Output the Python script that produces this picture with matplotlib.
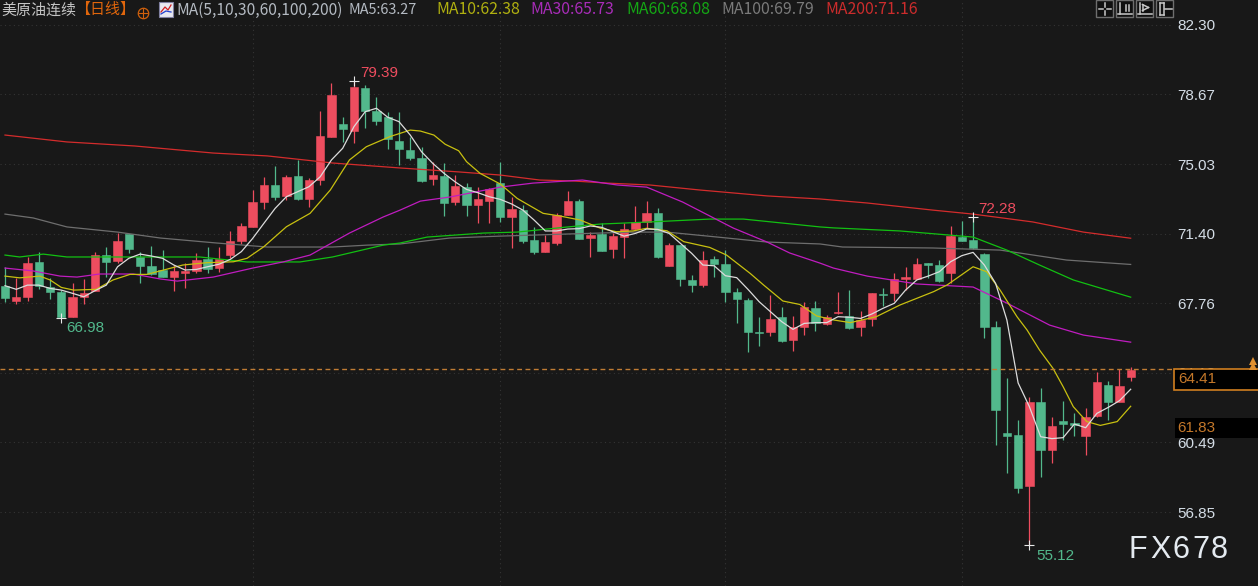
"""Daily candlestick chart of US crude (continuous) with moving averages."""

import matplotlib
matplotlib.use("Agg")
import matplotlib.pyplot as plt
from matplotlib.patches import Rectangle

plt.rcParams["font.family"] = ["Noto Sans CJK SC", "DejaVu Sans"]

W, H = 1258, 586

OPENS = [68.66, 67.88, 68.07, 69.90, 68.63, 68.33, 67.03, 68.10, 68.42, 70.28,
         69.97, 71.36, 70.16, 69.71, 69.50, 69.12, 69.32, 69.46, 70.07, 69.62,
         70.28, 71.01, 71.73, 73.05, 73.94, 73.36, 74.41, 73.23, 74.20, 76.43,
         77.13, 76.78, 78.99, 77.81, 77.48, 76.26, 75.77, 75.33, 74.24, 74.41,
         73.03, 73.82, 72.91, 73.12, 74.03, 72.25, 72.63, 71.07, 70.42, 70.89,
         72.37, 73.10, 71.15, 71.36, 70.58, 71.24, 71.66, 72.02, 72.46, 69.72,
         70.80, 68.99, 68.71, 70.06, 69.83, 68.33, 67.95, 66.26, 66.26, 67.03,
         65.86, 66.54, 67.53, 66.66, 67.23, 67.11, 66.50, 66.92, 68.24, 68.28,
         69.03, 69.05, 69.85, 69.76, 69.32, 71.24, 71.07, 70.32, 66.50, 61.00,
         60.88, 58.23, 62.58, 60.11, 61.59, 61.47, 60.84, 61.87, 63.49, 62.58,
         63.89]
CLOSES = [68.02, 68.07, 69.85, 68.66, 68.33, 67.03, 68.07, 68.31, 70.28, 69.90,
          71.01, 70.58, 69.71, 69.29, 69.12, 69.46, 69.46, 70.02, 69.53, 70.07,
          71.01, 71.80, 73.03, 73.94, 73.30, 74.34, 73.23, 74.20, 76.50, 78.64,
          76.85, 79.04, 77.81, 77.30, 76.33, 75.80, 75.33, 74.15, 74.46, 72.98,
          73.89, 72.91, 73.19, 73.71, 72.25, 72.67, 71.01, 70.42, 70.94, 72.37,
          73.10, 71.10, 71.33, 70.49, 71.27, 71.66, 72.02, 72.46, 70.16, 70.80,
          69.01, 68.73, 70.02, 69.81, 68.33, 67.97, 66.26, 66.19, 66.96, 65.79,
          66.54, 67.58, 66.75, 67.06, 67.32, 66.45, 66.89, 68.28, 68.19, 69.01,
          69.10, 69.83, 69.78, 68.92, 71.29, 71.03, 70.63, 66.52, 62.20, 60.84,
          58.09, 62.58, 60.11, 61.35, 61.43, 61.42, 61.80, 63.63, 62.58, 63.44,
          64.27]
HIGHS = [69.64, 69.06, 70.16, 70.46, 69.06, 68.45, 68.84, 69.01, 70.46, 70.68,
         71.41, 71.36, 70.46, 70.75, 70.54, 69.76, 69.85, 70.37, 70.68, 70.68,
         71.54, 71.97, 73.68, 74.34, 74.93, 74.46, 75.25, 74.29, 77.81, 79.25,
         77.48, 79.39, 79.17, 78.52, 77.77, 77.77, 76.43, 75.94, 75.16, 75.11,
         74.46, 74.03, 73.82, 73.77, 75.12, 73.30, 72.89, 71.76, 71.33, 72.49,
         73.63, 73.19, 71.50, 71.97, 71.41, 71.97, 72.84, 73.10, 72.72, 70.89,
         70.80, 69.24, 70.49, 70.23, 70.54, 68.54, 68.05, 67.03, 68.19, 67.55,
         67.09, 67.81, 67.88, 67.15, 68.33, 68.45, 67.36, 68.31, 68.58, 69.32,
         69.64, 70.14, 69.88, 70.02, 71.80, 72.06, 72.28, 70.37, 66.83, 63.84,
         61.66, 62.85, 63.32, 61.80, 62.65, 62.01, 62.27, 64.15, 63.70, 64.33,
         64.41]
LOWS = [67.84, 67.72, 67.88, 68.49, 67.97, 66.98, 67.03, 67.70, 68.42, 69.15,
        69.85, 70.37, 68.80, 69.24, 69.12, 68.42, 68.54, 69.32, 69.32, 69.41,
        70.11, 70.84, 71.73, 72.67, 73.16, 73.16, 73.16, 72.77, 73.94, 76.43,
        76.20, 76.12, 76.90, 77.07, 75.80, 74.98, 75.25, 74.08, 73.94, 72.32,
        72.89, 72.32, 71.97, 71.94, 71.99, 70.63, 70.93, 70.33, 70.42, 70.80,
        72.37, 71.10, 70.16, 70.49, 70.11, 70.11, 71.66, 71.68, 70.11, 69.72,
        68.66, 68.33, 68.59, 69.12, 67.81, 66.71, 65.21, 65.53, 66.05, 65.74,
        65.28, 66.12, 66.31, 66.62, 67.20, 66.40, 66.07, 66.57, 67.63, 67.88,
        68.45, 69.01, 69.06, 68.85, 68.80, 71.03, 70.58, 65.93, 60.35, 58.87,
        57.83, 55.12, 58.67, 59.40, 60.62, 60.82, 59.83, 61.84, 61.66, 62.58,
        63.72]

MA5 = [68.68, 68.49, 68.71, 68.71, 68.54, 68.45, 68.28, 68.10, 68.42, 68.71,
       69.67, 70.11, 70.33, 70.23, 70.11, 69.76, 69.50, 69.53, 69.67, 69.80,
       70.05, 70.46, 71.15, 71.94, 72.72, 73.33, 73.59, 73.85, 74.37, 75.25,
       75.86, 76.99, 77.77, 77.95, 77.48, 77.25, 76.55, 75.68, 75.07, 74.55,
       74.10, 73.71, 73.54, 73.33, 73.19, 72.95, 72.63, 72.11, 71.54, 71.54,
       71.64, 71.66, 71.80, 71.73, 71.50, 71.27, 71.41, 71.64, 71.62, 71.41,
       70.89, 70.37, 69.76, 69.72, 69.20, 69.10, 68.49, 67.84, 67.32, 66.80,
       66.40, 66.71, 66.75, 66.75, 67.06, 67.03, 66.97, 67.20, 67.50, 67.76,
       68.45, 68.98, 69.18, 69.41, 69.93, 70.25, 70.42, 69.76, 68.80, 66.89,
       63.60, 62.36, 60.79, 60.69, 60.74, 61.45, 61.26, 62.01, 62.32, 62.67,
       63.27]

MA10_DAY = [0, 1.3, 3.1, 4, 5, 6.1, 8.1, 9.6, 11.1, 12.6, 14.1, 15.8, 17.9, 20.3,
            21.5, 23, 25, 27.1, 28.9, 30.6, 32.1, 34.2, 36, 36.9, 38.1, 39.1,
            40.3, 41, 42.2, 44, 45.5, 47.8, 49.3, 51.1, 52.9, 54.3, 55.8, 57,
            58.8, 60.3, 62.6, 64.1, 66.2, 67.4, 69.1, 70.6, 72.1, 73.6, 75.1,
            77.4, 79.5, 82.5, 83.7, 86, 87.2, 88.4, 89.9, 90.8, 91.9, 93.1, 94,
            94.9, 96.1, 97.3, 98.8, 100]
MA10 = [69.18, 69.09, 69.18, 68.98, 68.59, 68.45, 68.49, 68.98, 69.27, 69.27,
        69.50, 69.76, 69.88, 69.93, 70.11, 70.72, 71.76, 72.46, 73.68, 75.25,
        75.94, 76.47, 76.81, 76.76, 76.55, 76.07, 75.73, 75.16, 74.55, 73.99,
        73.24, 72.46, 72.32, 72.11, 71.68, 71.50, 71.54, 71.68, 71.55, 70.98,
        70.68, 70.28, 69.32, 68.71, 67.88, 67.70, 67.10, 66.89, 66.75, 67.06,
        67.67, 68.37, 68.72, 69.67, 69.41, 68.45, 67.06, 66.36, 65.32, 64.36,
        63.40, 62.36, 61.58, 61.38, 61.58, 62.38]

MA30_DAY = [0, 2.5, 4.9, 6.4, 8.4, 11.4, 13.8, 15.3, 18.5, 22, 24.7, 27.1, 30.6,
            33.6, 35.1, 36.9, 39.5, 44, 46.9, 51.3, 54.4, 57, 60.2, 64.7, 67.7,
            69.7, 72.4, 73.6, 76.6, 81, 86, 89, 92.8, 95.8, 100]
MA30 = [69.60, 69.45, 69.18, 69.13, 69.29, 69.29, 69.03, 68.92, 69.13, 69.60,
        69.92, 70.28, 71.43, 72.27, 72.63, 73.10, 73.31, 73.83, 74.04, 74.20,
        73.94, 73.83, 73.05, 71.69, 70.96, 70.39, 69.86, 69.60, 69.18, 68.77,
        68.61, 67.77, 66.62, 66.10, 65.73]

MA60_DAY = [0, 1.3, 3.4, 5.5, 11.4, 17.3, 21.5, 26.2, 29.1, 33.6, 35.1, 37.5,
            42.5, 45.5, 50, 52.9, 57.3, 62.6, 65.6, 69.1, 72.4, 73.6, 79.5, 86,
            89, 91.9, 94.9, 100]
MA60 = [70.28, 70.18, 70.33, 70.18, 70.18, 70.18, 69.92, 69.92, 70.18, 70.80,
        70.91, 71.22, 71.43, 71.48, 71.75, 71.90, 72.01, 72.16, 72.16, 71.95,
        71.75, 71.70, 71.54, 71.22, 70.54, 69.76, 68.98, 68.08]

MA100_DAY = [0, 2.5, 5.5, 10, 13.8, 18.8, 23.3, 29.1, 32.2, 35.1, 39.5, 44, 50,
             55.8, 58.8, 63.3, 67.7, 72.4, 74.4, 82.4, 88.4, 94.3, 100]
MA100 = [72.42, 72.22, 71.75, 71.48, 71.17, 70.91, 70.70, 70.70, 70.80, 70.86,
         71.17, 71.27, 71.38, 71.48, 71.48, 71.22, 70.96, 70.86, 70.70, 70.65,
         70.54, 70.02, 69.79]

MA200_DAY = [0, 5.5, 11.5, 18.5, 23.3, 29.1, 35.1, 40.4, 44, 47.5, 50.5, 53.5,
             57.3, 61.7, 67.7, 72.4, 76.6, 82.4, 86, 91.3, 95.8, 100]
MA200 = [76.55, 76.19, 75.98, 75.61, 75.46, 75.09, 74.83, 74.62, 74.46, 74.20,
         74.15, 74.04, 73.94, 73.68, 73.37, 73.21, 73.00, 72.63, 72.42, 72.01,
         71.48, 71.16]

Y_TICKS = [82.30, 78.67, 75.03, 71.40, 67.76, 64.13, 60.49, 56.85]
V_GRID_DAYS = [22, 44, 64, 85]
LAST_LINE = 64.33

UP = "#ee4d5f"
DOWN = "#52b88c"
BG = "#181818"

HEADER = [
    ("美原油连续", 1, "#c4c4c4", 10.8),
    ("【日线】", 75, "#e0660c", 10.8),
    ("MA(5,10,30,60,100,200)", 176, "#b4bac2", 11.2),
    ("MA5:63.27", 349, "#b4bac2", 10.4),
    ("MA10:62.38", 436, "#b0b010", 11.4),
    ("MA30:65.73", 530, "#a82cb8", 11.4),
    ("MA60:68.08", 626, "#14a814", 11.4),
    ("MA100:69.79", 721, "#7a7a7a", 11.4),
    ("MA200:71.16", 825, "#cc2c2c", 11.4),
]
EXTREMES = [(31, 79.39, 0.55, 0.42, UP), (5, 66.98, 0.45, -0.52, DOWN),
            (86, 72.28, 0.45, 0.40, UP), (91, 55.12, 0.6, -0.55, DOWN)]


def px(x, y):
    """Image pixel (from top-left) to figure fraction."""
    return x / W, 1 - y / H


def add_button(fig, x, kind):
    fx, fy = px(x, 17)
    fig.add_artist(Rectangle((fx, fy), 17 / W, 17 / H, transform=fig.transFigure,
                             facecolor="#101010", edgecolor="#6e6e6e", lw=1))
    cx, cy = x + 8.5, 8.5
    segs = {
        "move": [((cx - 6, cy), (cx - 2, cy)), ((cx + 2, cy), (cx + 6, cy)),
                 ((cx, cy - 6), (cx, cy - 2)), ((cx, cy + 2), (cx, cy + 6))],
        "left": [((cx - 5, cy - 6), (cx - 5, cy + 5)), ((cx - 7, cy + 5), (cx + 7, cy + 5)),
                 ((cx + 1, cy - 4), (cx + 1, cy + 2)), ((cx + 4, cy - 4), (cx + 4, cy + 2))],
        "play": [((cx - 5, cy - 6), (cx - 5, cy + 5)), ((cx - 7, cy + 5), (cx + 7, cy + 5)),
                 ((cx - 2, cy - 4), (cx - 2, cy + 2)), ((cx - 2, cy - 4), (cx + 4, cy - 1)),
                 ((cx + 4, cy - 1), (cx - 2, cy + 2))],
        "end": [((cx - 5, cy - 6), (cx - 5, cy + 6)), ((cx - 5, cy - 6), (cx - 1, cy - 6)),
                ((cx - 5, cy + 6), (cx - 1, cy + 6)), ((cx - 1, cy - 6), (cx - 1, cy + 6)),
                ((cx, cy), (cx + 7, cy))],
    }[kind]
    for (x0, y0), (x1, y1) in segs:
        a, b = px(x0, y0), px(x1, y1)
        fig.add_artist(plt.Line2D([a[0], b[0]], [a[1], b[1]], color="#c8c8c8", lw=1.1))


def main():
    fig = plt.figure(figsize=(W / 100, H / 100), dpi=100, facecolor=BG)
    ax = fig.add_axes([0, 0, 1172 / W, 1], facecolor=BG)
    ax.set_xlim(-0.444, 103.67)
    ax.set_ylim(52.99, 83.606)
    for s in ax.spines.values():
        s.set_visible(False)

    ax.yaxis.tick_right()
    ax.set_yticks(Y_TICKS)
    ax.set_yticklabels([f"{v:.2f}" for v in Y_TICKS], fontsize=11, color="#d4dde6",
                       family="Liberation Sans")
    ax.tick_params(axis="y", length=0, pad=4)
    ax.set_xticks(V_GRID_DAYS)
    ax.tick_params(axis="x", length=0, labelbottom=False)
    ax.grid(True, color="#343434", linewidth=0.8, linestyle=(0, (1, 3)))
    ax.set_axisbelow(True)

    days = list(range(len(OPENS)))
    for d, o, h, l, c in zip(days, OPENS, HIGHS, LOWS, CLOSES):
        col = UP if c >= o else DOWN
        ax.vlines(d, l, h, color=col, linewidth=0.9, zorder=2)
        ax.bar(d, max(abs(c - o), 0.08), bottom=min(o, c), width=0.74,
               color=col, edgecolor=col, linewidth=0.4, zorder=3)

    ax.plot(MA200_DAY, MA200, color="#d42c2c", lw=0.9, zorder=4)
    ax.plot(MA100_DAY, MA100, color="#6e6e6e", lw=0.9, zorder=4)
    ax.plot(MA60_DAY, MA60, color="#12c012", lw=0.9, zorder=4)
    ax.plot(MA30_DAY, MA30, color="#c01cc0", lw=0.9, zorder=4)
    ax.plot(MA10_DAY, MA10, color="#c8c010", lw=0.9, zorder=5)
    ax.plot(days, MA5, color="#dcdcdc", lw=0.9, zorder=6)

    ax.axhline(LAST_LINE, color="#c07c34", lw=1, linestyle=(0, (3.5, 2.5)), zorder=7)

    for d, v, dx, dy, col in EXTREMES:
        ax.plot([d], [v], marker="+", color="#e8e8e8", ms=7, mew=0.8, zorder=8)
        ax.text(d + dx, v + dy, f"{v:.2f}", color=col, fontsize=11, fontweight="medium",
                ha="left", va="center", zorder=8, family="Liberation Sans")

    # price boxes over the axis labels
    fx, fy = px(1174, 390)
    fig.add_artist(Rectangle((fx, fy), 90 / W, 21 / H, transform=fig.transFigure,
                             facecolor="#000000", edgecolor="#d07f20", lw=1.2))
    fig.text(*px(1178, 379), "64.41", color="#c4782a", fontsize=11, va="center",
             family="Liberation Sans")
    fx, fy = px(1175, 438)
    fig.add_artist(Rectangle((fx, fy), 83 / W, 20 / H, transform=fig.transFigure,
                             facecolor="#000000", edgecolor="none"))
    fig.text(*px(1177, 428), "61.83", color="#c4782a", fontsize=11, va="center",
             family="Liberation Sans")
    for y in (361, 366):
        a = px(1253, y)
        fig.add_artist(plt.Line2D([a[0]], [a[1]], marker="^", ms=6, color="#e09030", mew=0))

    # header strip
    for txt, x, col, size in HEADER:
        fig.text(*px(x, 10), txt, color=col, fontsize=size, va="center", ha="left")
    a = px(143, 13)
    fig.add_artist(plt.Line2D([a[0]], [a[1]], marker="o", ms=7.5, mfc="none", mec="#d0600c", mew=0.9))
    fig.add_artist(plt.Line2D([a[0]], [a[1]], marker="+", ms=7.5, color="#d0600c", mew=0.8))
    fx, fy = px(159, 17)
    fig.add_artist(Rectangle((fx, fy), 14 / W, 15 / H, transform=fig.transFigure,
                             facecolor="#e8e8f0", edgecolor="#8080a0", lw=0.8))
    a, b, c, d = px(161, 12), px(165, 7), px(168, 10), px(171, 5)
    fig.add_artist(plt.Line2D([a[0], b[0], c[0], d[0]], [a[1], b[1], c[1], d[1]],
                              color="#d02020", lw=0.9))
    a, b, c = px(161, 14), px(166, 11), px(171, 12)
    fig.add_artist(plt.Line2D([a[0], b[0], c[0]], [a[1], b[1], c[1]], color="#2040d0", lw=0.9))

    for x, kind in zip((1096, 1116, 1136, 1156), ("move", "left", "play", "end")):
        add_button(fig, x, kind)

    # watermark
    for ch, x in zip("FX678", (1128.5, 1150, 1172, 1192, 1211)):
        fig.text(*px(x, 550), ch, color="#e4eaf0", fontsize=22, va="center", ha="left",
                 family="Liberation Sans")

    fig.savefig("out.png", dpi=100, facecolor=BG)
    plt.close(fig)


if __name__ == "__main__":
    main()
